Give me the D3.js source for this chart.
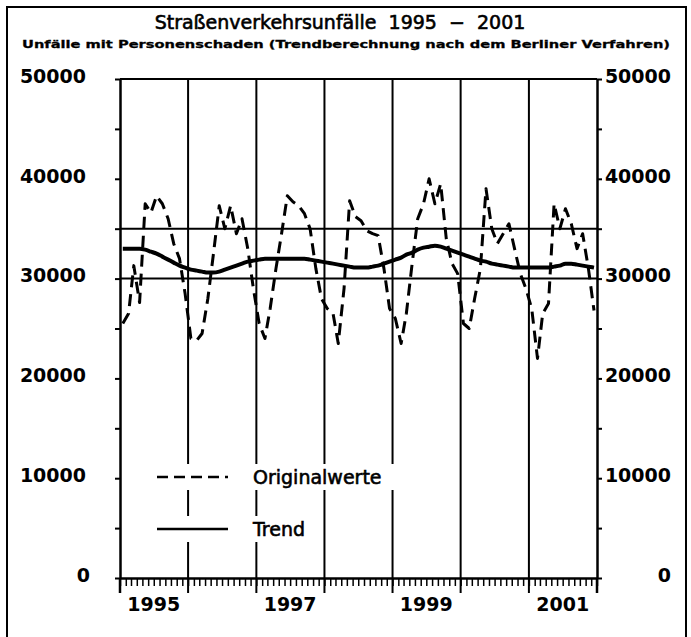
<!DOCTYPE html>
<html>
<head>
<meta charset="utf-8">
<script src="https://cdn.jsdelivr.net/npm/d3@7"></script>
<style>
  body { margin: 0; background: #fff; }
  svg { display: block; }
  .num { font-family: "DejaVu Sans", sans-serif; font-weight: bold; font-size: 19px; fill: #000; }
  .title { font-family: "DejaVu Sans", sans-serif; font-size: 19px; fill: #000; stroke: #000; stroke-width: 0.6px; }
  .sub { font-family: "DejaVu Sans", sans-serif; font-weight: bold; font-size: 11px; fill: #000; stroke: #000; stroke-width: 0.3px; }
  .leg { font-family: "DejaVu Sans", sans-serif; font-size: 19px; fill: #000; stroke: #000; stroke-width: 0.6px; }
</style>
</head>
<body>
<div id="chart"></div>
<script>
// monthly values Jan 1995 - Dec 2001 (one row per year)
const originalValues = [
  25500, 26500, 31300, 27600, 37500, 36600, 38300, 37500, 36000, 33500, 32000, 28500,
  24000, 23800, 24500, 28000, 32500, 37300, 35000, 37300, 34500, 36000, 33000, 29000,
  25500, 24000, 27000, 31000, 34500, 38300, 37700, 37300, 36500, 35000, 31000, 28000,
  27000, 26500, 23500, 29000, 37800, 36200, 35800, 34800, 34500, 34300, 31000, 27000,
  26000, 23500, 26500, 31500, 36000, 37500, 40000, 37500, 39500, 34000, 31500, 30500,
  25500, 25000, 28000, 31000, 39000, 35000, 33500, 34500, 35500, 33000, 30500, 29000,
  27000, 22000, 26500, 27500, 37500, 35000, 37000, 35500, 33000, 34500, 31000, 26800
];
const trendValues = [
  33000, 33000, 33000, 33000, 32900, 32700, 32500, 32200, 31900, 31600, 31300, 31100,
  30900, 30800, 30700, 30600, 30600, 30700, 30900, 31100, 31300, 31500, 31700, 31800,
  31900, 32000, 32000, 32000, 32000, 32000, 32000, 32000, 32000, 31900, 31800, 31700,
  31600, 31500, 31400, 31300, 31200, 31100, 31100, 31100, 31200, 31300, 31500, 31700,
  31900, 32100, 32400, 32600, 32900, 33100, 33200, 33300, 33200, 33000, 32800, 32600,
  32400, 32200, 32000, 31800, 31700, 31500, 31400, 31300, 31200, 31100, 31100, 31100,
  31100, 31100, 31100, 31100, 31200, 31300, 31500, 31500, 31400, 31300, 31200, 31100
];
const yearLabels = [1995, 1997, 1999, 2001];
const yearLines = [1996, 1997, 1998, 1999, 2000, 2001];
const yTicks = [0, 5000, 10000, 15000, 20000, 25000, 30000, 35000, 40000, 45000, 50000];
const yLabels = [0, 10000, 20000, 30000, 40000, 50000];
const hLines = [30000, 35000, 50000];
const legendItems = [
  { label: "Originalwerte", dash: "11,6" },
  { label: "Trend", dash: null }
];

const width = 691, height = 637;
const plotLeft = 120, plotRight = 597, plotTop = 79, plotBottom = 578;

const svg = d3.select('#chart').append('svg')
  .attr('width', width)
  .attr('height', height);

// outer frame
svg.append('rect')
  .attr('x', 7).attr('y', 7)
  .attr('width', 679).attr('height', 650)
  .attr('fill', 'none')
  .attr('stroke', '#000')
  .attr('stroke-width', 2);

svg.append('text')
  .attr('class', 'title')
  .attr('x', 340).attr('y', 29)
  .attr('text-anchor', 'middle')
  .attr('xml:space', 'preserve')
  .style('white-space', 'pre')
  .text('Straßenverkehrsunfälle  1995  \u2212  2001');

svg.append('text')
  .attr('class', 'sub')
  .attr('x', 22).attr('y', 48)
  .attr('textLength', 648)
  .attr('lengthAdjust', 'spacingAndGlyphs')
  .text('Unfälle mit Personenschaden (Trendberechnung nach dem Berliner Verfahren)');

const x = d3.scaleTime()
  .domain([new Date(1995, 0, 1), new Date(2002, 0, 1)])
  .range([plotLeft, plotRight]);

const y = d3.scaleLinear()
  .domain([0, 50000])
  .range([plotBottom, plotTop]);

const monthDate = i => new Date(1995, i, 16);

// horizontal reference lines
svg.append('g')
  .selectAll('line')
  .data(hLines)
  .join('line')
    .attr('x1', plotLeft).attr('x2', plotRight)
    .attr('y1', d => y(d)).attr('y2', d => y(d))
    .attr('stroke', '#000')
    .attr('stroke-width', 2);

// year dividers
svg.append('g')
  .selectAll('line')
  .data(yearLines)
  .join('line')
    .attr('x1', d => x(new Date(d, 0, 1))).attr('x2', d => x(new Date(d, 0, 1)))
    .attr('y1', plotTop).attr('y2', plotBottom + 15)
    .attr('stroke', '#000')
    .attr('stroke-width', 2);

// bottom axis with monthly ticks
const xAxis = svg.append('g')
  .attr('transform', `translate(0,${plotBottom})`)
  .call(d3.axisBottom(x).ticks(d3.timeMonth.every(1)).tickSize(8).tickSizeOuter(0).tickFormat(''));
xAxis.select('.domain').attr('stroke-width', 2.5);
xAxis.selectAll('.tick line').attr('stroke-width', 1.5);

// left and right axes
const yAxisL = svg.append('g')
  .attr('transform', `translate(${plotLeft},0)`)
  .call(d3.axisLeft(y).tickValues(yTicks).tickSize(5).tickSizeOuter(0).tickFormat(''));
const yAxisR = svg.append('g')
  .attr('transform', `translate(${plotRight},0)`)
  .call(d3.axisRight(y).tickValues(yTicks).tickSize(5).tickSizeOuter(0).tickFormat(''));
[yAxisL, yAxisR].forEach(a => {
  a.select('.domain').attr('stroke-width', 2.5);
  a.selectAll('.tick line').attr('stroke-width', 2);
});
[plotLeft, plotRight].forEach(xx => {
  svg.append('line')
    .attr('x1', xx).attr('x2', xx)
    .attr('y1', plotBottom).attr('y2', plotBottom + 15)
    .attr('stroke', '#000').attr('stroke-width', 2.5);
});

svg.append('g')
  .selectAll('text')
  .data(yLabels)
  .join('text')
    .attr('class', 'num')
    .attr('x', d => d === 0 ? 90 : 86)
    .attr('y', d => y(d) - 3)
    .attr('dy', '0.36em')
    .attr('text-anchor', 'end')
    .text(d => d);

svg.append('g')
  .selectAll('text')
  .data(yLabels)
  .join('text')
    .attr('class', 'num')
    .attr('x', 671)
    .attr('y', d => y(d) - 3)
    .attr('dy', '0.36em')
    .attr('text-anchor', 'end')
    .text(d => d);

svg.append('g')
  .selectAll('text')
  .data(yearLabels)
  .join('text')
    .attr('class', 'num')
    .attr('x', d => x(new Date(d, 6, 1)))
    .attr('y', 611)
    .attr('text-anchor', 'middle')
    .text(d => d);

// data lines
const line = d3.line()
  .x((d, i) => x(monthDate(i)))
  .y(d => y(d));

svg.append('path')
  .datum(originalValues)
  .attr('d', line)
  .attr('fill', 'none')
  .attr('stroke', '#000')
  .attr('stroke-width', 3)
  .attr('stroke-dasharray', '12,7')
  .attr('stroke-linejoin', 'round');

svg.append('path')
  .datum(trendValues)
  .attr('d', line.curve(d3.curveMonotoneX))
  .attr('fill', 'none')
  .attr('stroke', '#000')
  .attr('stroke-width', 4);

// legend
const legend = svg.append('g')
  .selectAll('g')
  .data(legendItems)
  .join('g')
    .attr('transform', (d, i) => `translate(150,${477 + i * 52})`);

legend.append('rect')
  .attr('x', 0).attr('y', -13)
  .attr('width', (d, i) => i === 0 ? 246 : 172)
  .attr('height', 26)
  .attr('fill', '#fff');

legend.append('line')
  .attr('x1', 7).attr('x2', 78)
  .attr('y1', 0).attr('y2', 0)
  .attr('stroke', '#000')
  .attr('stroke-width', 2.5)
  .attr('stroke-dasharray', d => d.dash);

legend.append('text')
  .attr('class', 'leg')
  .attr('x', 103)
  .attr('y', 0)
  .attr('dy', '0.36em')
  .text(d => d.label);
</script>
</body>
</html>
